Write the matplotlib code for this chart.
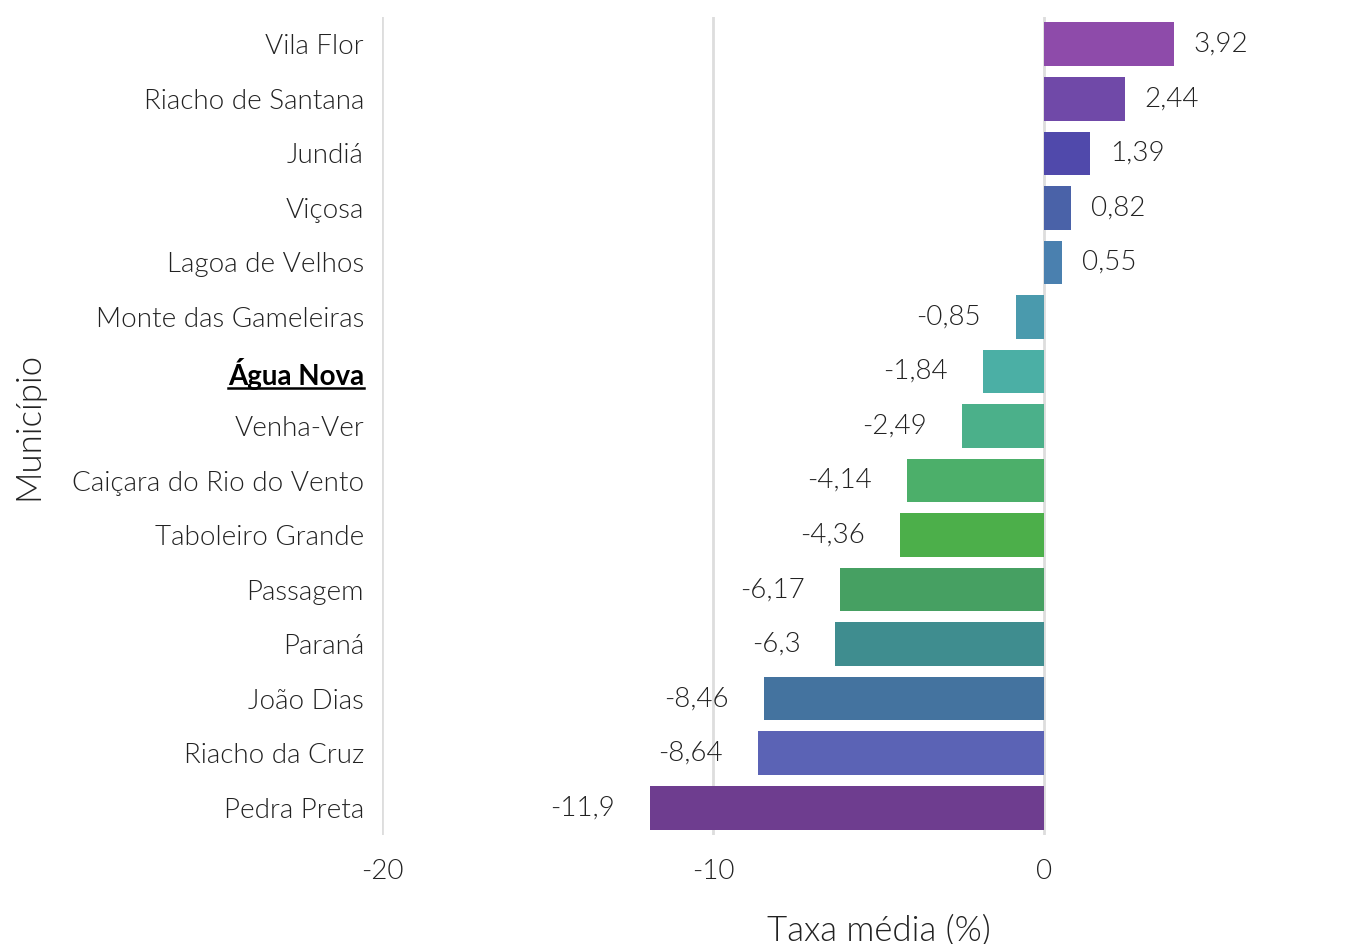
import matplotlib.pyplot as plt
import matplotlib.lines as lines

municipios = ['Vila Flor', 'Riacho de Santana', 'Jundiá', 'Viçosa', 'Lagoa de Velhos',
              'Monte das Gameleiras', 'Água Nova', 'Venha-Ver', 'Caiçara do Rio do Vento',
              'Taboleiro Grande', 'Passagem', 'Paraná', 'João Dias', 'Riacho da Cruz',
              'Pedra Preta']
taxas = [3.92, 2.44, 1.39, 0.82, 0.55, -0.85, -1.84, -2.49, -4.14, -4.36,
         -6.17, -6.3, -8.46, -8.64, -11.9]
rotulos = ['3,92', '2,44', '1,39', '0,82', '0,55', '-0,85', '-1,84', '-2,49', '-4,14',
           '-4,36', '-6,17', '-6,3', '-8,46', '-8,64', '-11,9']
cores = ['#8E4BAA', '#7049A8', '#5049AB', '#4A62A8', '#4A80AF', '#4A9AAD', '#4BAFA5',
         '#4BB08A', '#4CAF6A', '#4CAF4A', '#46A062', '#3F8D8F', '#44739F', '#5B63B5',
         '#6E3D8F']
destaque = 'Água Nova'
xticks = [-20, -10, 0]

plt.rcParams['font.family'] = ['Lato', 'DejaVu Sans']
plt.rcParams['font.weight'] = 300
txt = '#222222'

fig = plt.figure(figsize=(13.64, 9.44), dpi=100)
W, H = 1364, 944
ax = fig.add_axes([382 / W, 1 - 835 / H, (W - 382) / W, (835 - 17) / H])

ypos = list(range(len(municipios)))
ax.barh(ypos, taxas, height=0.8, color=cores, zorder=2)

# x limits from pixel scale: -20 at left edge, 33.1 px per unit
ax.set_xlim(-20, -20 + (W - 382) / 33.1)
ax.set_ylim(len(municipios) - 0.5, -0.5)

for y, v, r in zip(ypos, taxas, rotulos):
    if v >= 0:
        ax.annotate(r, (v, y), xytext=(20, 0), textcoords='offset pixels',
                    ha='left', va='center', fontsize=20, color=txt, fontweight=300)
    else:
        ax.annotate(r, (v, y), xytext=(-35, 0), textcoords='offset pixels',
                    ha='right', va='center', fontsize=20, color=txt, fontweight=300)

ax.set_xticks(xticks)
ax.set_xticklabels([str(t) for t in xticks], fontsize=20, color=txt, fontweight=300)
ax.set_yticks(ypos)
ax.set_yticklabels(municipios, fontsize=20, color=txt, fontweight=300)
ax.tick_params(axis='both', length=0)
ax.tick_params(axis='x', pad=17)
ax.tick_params(axis='y', pad=13)
ax.grid(axis='x', color='#DDDDDD', linewidth=2, zorder=0)
ax.set_axisbelow(True)
for s in ax.spines.values():
    s.set_visible(False)

for lab in ax.get_yticklabels():
    if lab.get_text() == destaque:
        lab.set_fontweight('bold')
        lab.set_color('black')

fig.text(879 / W, 1 - 930 / H, 'Taxa média (%)', ha='center', va='center',
         fontsize=25, color=txt, fontweight=300)
fig.text(28 / W, 1 - 426 / H, 'Município', ha='center', va='center',
         rotation=90, fontsize=25, color=txt, fontweight=300)

# underline the highlighted label
fig.canvas.draw()
for lab in ax.get_yticklabels():
    if lab.get_text() == destaque:
        bb = lab.get_window_extent()
        yl = bb.y0 + 2
        fig.add_artist(lines.Line2D([bb.x0 / W, bb.x1 / W], [yl / H, yl / H],
                                    color='black', linewidth=1.8))

fig.savefig('out.png', dpi=100)
